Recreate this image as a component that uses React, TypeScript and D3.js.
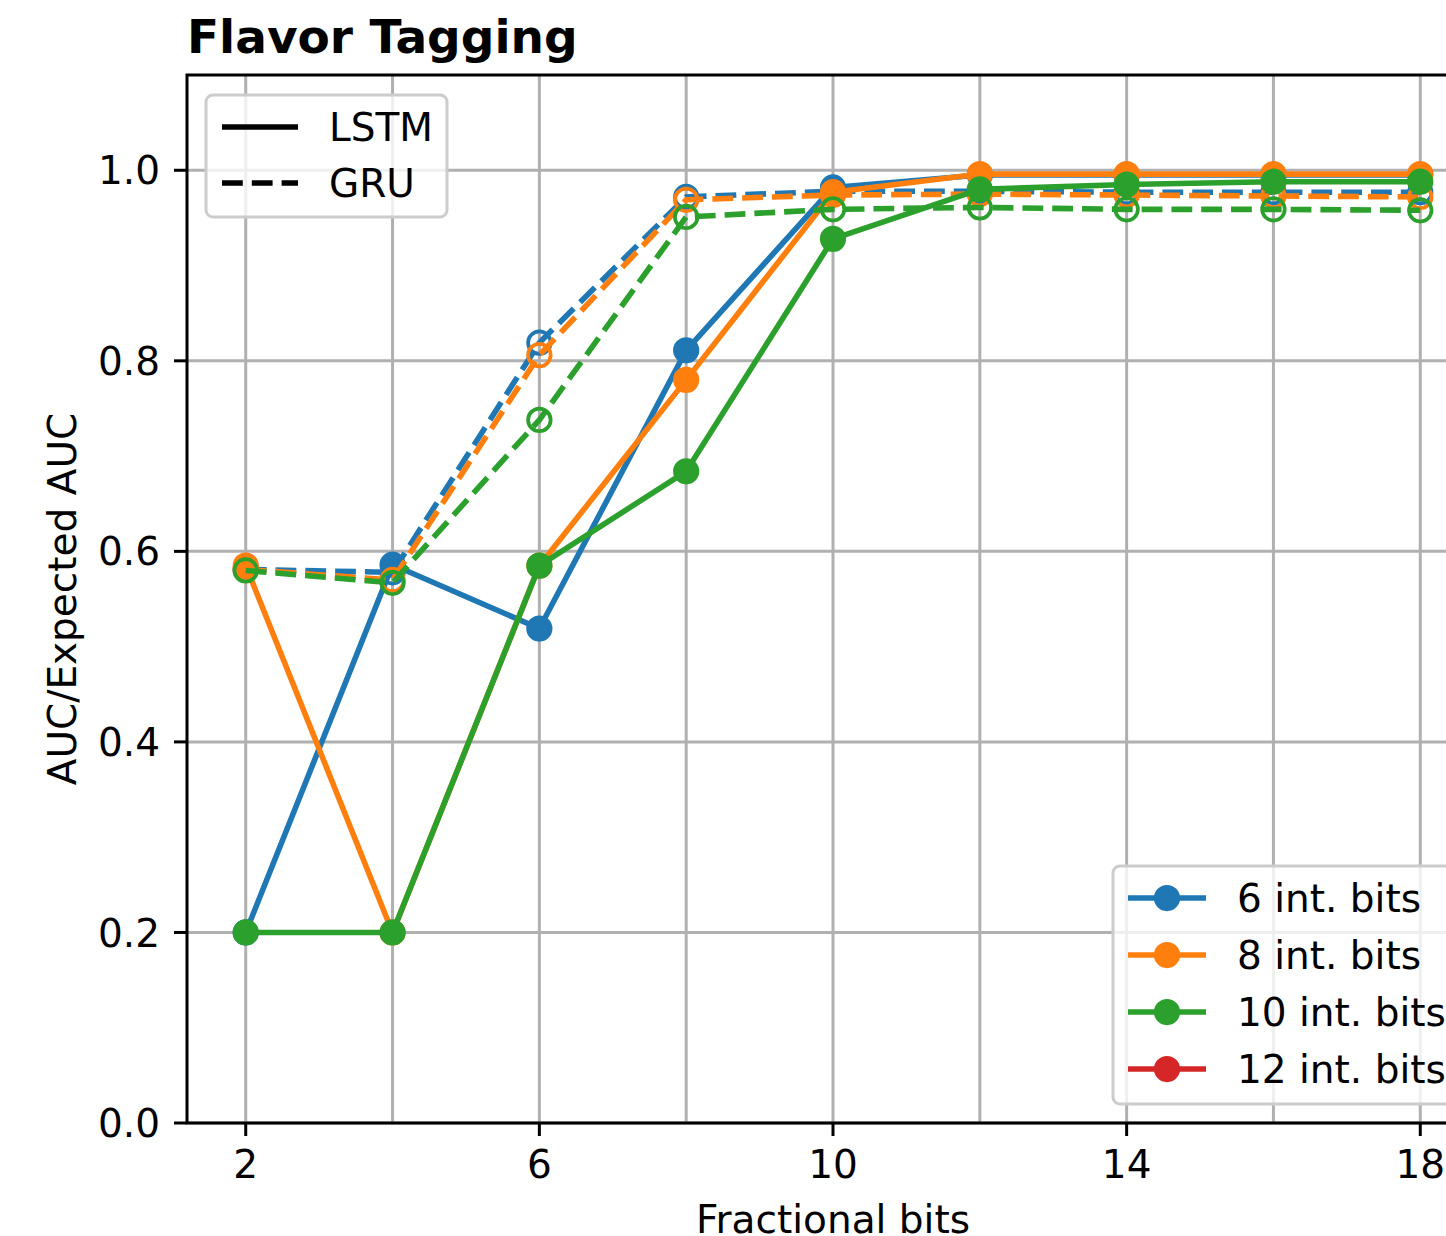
import React, { useRef, useEffect } from "react";
import * as d3 from "d3";

// x values (fractional bits) and ticks
const fracBits = [2, 4, 6, 8, 10, 12, 14, 16, 18];
const xGrid = [2, 4, 6, 8, 10, 12, 14, 16, 18];
const xTicks = [2, 6, 10, 14, 18];
const yTicks = [0, 0.2, 0.4, 0.6, 0.8, 1.0];

const intBitLabels = ["6 int. bits", "8 int. bits", "10 int. bits", "12 int. bits"];
const colors = ["#1f77b4", "#ff7f0e", "#2ca02c", "#d62728"];

// LSTM (solid, filled markers)
const lstm6 = [0.2, 0.586, 0.519, 0.811, 0.982, 0.995, 0.995, 0.995, 0.995];
const lstm8 = [0.585, 0.2, 0.585, 0.78, 0.977, 0.996, 0.996, 0.996, 0.996];
const lstm10 = [0.2, 0.2, 0.585, 0.684, 0.928, 0.98, 0.985, 0.988, 0.988];
const lstm12: number[] = [];

// GRU (dashed, open markers)
const gru6 = [0.581, 0.578, 0.819, 0.972, 0.978, 0.978, 0.977, 0.977, 0.977];
const gru8 = [0.581, 0.57, 0.806, 0.969, 0.974, 0.975, 0.974, 0.973, 0.972];
const gru10 = [0.58, 0.567, 0.738, 0.951, 0.959, 0.961, 0.959, 0.959, 0.958];
const gru12: number[] = [];

const lstmSeries = [lstm6, lstm8, lstm10, lstm12];
const gruSeries = [gru6, gru8, gru10, gru12];

const W = 1446;
const H = 1236;
const FONT = "DejaVu Sans";
const FS = "39px";

const App = () => {
  const svgRef = useRef<SVGSVGElement>(null);

  useEffect(() => {
    const svg = d3.select(svgRef.current);
    svg.selectAll("*").remove();

    const left = 187;
    const top = 75;
    const right = 1479;
    const bottom = 1123;

    const x = d3.scaleLinear().domain([1.2, 18.8]).range([left, right]);
    const y = d3.scaleLinear().domain([0, 1.1]).range([bottom, top]);

    svg.append("rect").attr("width", W).attr("height", H).attr("fill", "white");

    svg
      .append("defs")
      .append("clipPath")
      .attr("id", "plot-clip")
      .append("rect")
      .attr("x", left)
      .attr("y", top)
      .attr("width", right - left)
      .attr("height", bottom - top);

    // grid
    const grid = svg.append("g");
    grid
      .selectAll(".vgrid")
      .data(xGrid)
      .enter()
      .append("line")
      .attr("x1", (d) => x(d))
      .attr("x2", (d) => x(d))
      .attr("y1", top)
      .attr("y2", bottom)
      .attr("stroke", "#b0b0b0")
      .attr("stroke-width", 3);
    grid
      .selectAll(".hgrid")
      .data(yTicks)
      .enter()
      .append("line")
      .attr("x1", left)
      .attr("x2", right)
      .attr("y1", (d) => y(d))
      .attr("y2", (d) => y(d))
      .attr("stroke", "#b0b0b0")
      .attr("stroke-width", 3);

    // data lines, LSTM then GRU for each int-bits setting
    const plot = svg.append("g").attr("clip-path", "url(#plot-clip)");
    const line = d3
      .line<number>()
      .x((d, i) => x(fracBits[i]))
      .y((d) => y(d));

    colors.forEach((color, k) => {
      const ls = lstmSeries[k];
      const gs = gruSeries[k];
      if (ls.length) {
        plot
          .append("path")
          .datum(ls)
          .attr("d", line)
          .attr("fill", "none")
          .attr("stroke", color)
          .attr("stroke-width", 5.6)
          .attr("stroke-linejoin", "round");
        plot
          .selectAll(null)
          .data(ls)
          .enter()
          .append("circle")
          .attr("cx", (d, i) => x(fracBits[i]))
          .attr("cy", (d) => y(d))
          .attr("r", 11.25)
          .attr("fill", color)
          .attr("stroke", color)
          .attr("stroke-width", 3.75);
      }
      if (gs.length) {
        plot
          .append("path")
          .datum(gs)
          .attr("d", line)
          .attr("fill", "none")
          .attr("stroke", color)
          .attr("stroke-width", 5.6)
          .attr("stroke-dasharray", "20.8,9");
        plot
          .selectAll(null)
          .data(gs)
          .enter()
          .append("circle")
          .attr("cx", (d, i) => x(fracBits[i]))
          .attr("cy", (d) => y(d))
          .attr("r", 11.25)
          .attr("fill", "none")
          .attr("stroke", color)
          .attr("stroke-width", 3.75);
      }
    });

    // spines
    svg
      .append("rect")
      .attr("x", left)
      .attr("y", top)
      .attr("width", right - left)
      .attr("height", bottom - top)
      .attr("fill", "none")
      .attr("stroke", "black")
      .attr("stroke-width", 3);

    // x ticks
    const xt = svg
      .selectAll(".xtick")
      .data(xTicks)
      .enter()
      .append("g")
      .attr("transform", (d) => `translate(${x(d)},${bottom})`);
    xt.append("line").attr("y1", 0).attr("y2", 13).attr("stroke", "black").attr("stroke-width", 3);
    xt.append("text")
      .attr("y", 55)
      .attr("text-anchor", "middle")
      .style("font-family", FONT)
      .style("font-size", FS)
      .text((d) => d);

    // y ticks
    const yt = svg
      .selectAll(".ytick")
      .data(yTicks)
      .enter()
      .append("g")
      .attr("transform", (d) => `translate(${left},${y(d)})`);
    yt.append("line").attr("x1", 0).attr("x2", -13).attr("stroke", "black").attr("stroke-width", 3);
    yt.append("text")
      .attr("x", -27)
      .attr("dy", "0.36em")
      .attr("text-anchor", "end")
      .style("font-family", FONT)
      .style("font-size", FS)
      .text((d) => d.toFixed(1));

    // axis labels
    svg
      .append("text")
      .attr("x", (left + right) / 2)
      .attr("y", 1233)
      .attr("text-anchor", "middle")
      .style("font-family", FONT)
      .style("font-size", FS)
      .text("Fractional bits");
    svg
      .append("text")
      .attr("transform", `translate(76,${(top + bottom) / 2}) rotate(-90)`)
      .attr("text-anchor", "middle")
      .style("font-family", FONT)
      .style("font-size", FS)
      .text("AUC/Expected AUC");

    // title
    svg
      .append("text")
      .attr("x", left)
      .attr("y", 53)
      .style("font-family", FONT)
      .style("font-size", "47px")
      .style("font-weight", "bold")
      .text("Flavor Tagging");

    // legend: line styles
    const lg1 = svg.append("g");
    lg1
      .append("rect")
      .attr("x", 206)
      .attr("y", 95)
      .attr("width", 241)
      .attr("height", 122)
      .attr("rx", 7)
      .attr("fill", "white")
      .attr("fill-opacity", 0.8)
      .attr("stroke", "#cccccc")
      .attr("stroke-width", 3);
    const styleItems = lg1
      .selectAll(".style-item")
      .data(["LSTM", "GRU"])
      .enter()
      .append("g")
      .attr("transform", (d, i) => `translate(222,${127 + i * 56})`);
    styleItems
      .append("line")
      .attr("x1", 0)
      .attr("x2", 76)
      .attr("stroke", "black")
      .attr("stroke-width", 5.6)
      .attr("stroke-dasharray", (d, i) => (i === 1 ? "20.8,9" : null));
    styleItems
      .append("text")
      .attr("x", 107)
      .attr("dy", "0.36em")
      .style("font-family", FONT)
      .style("font-size", FS)
      .text((d) => d);

    // legend: int bits
    const lg2 = svg.append("g");
    lg2
      .append("rect")
      .attr("x", 1113)
      .attr("y", 866)
      .attr("width", 350)
      .attr("height", 238)
      .attr("rx", 7)
      .attr("fill", "white")
      .attr("fill-opacity", 0.8)
      .attr("stroke", "#cccccc")
      .attr("stroke-width", 3);
    const bitItems = lg2
      .selectAll(".bit-item")
      .data(intBitLabels)
      .enter()
      .append("g")
      .attr("transform", (d, i) => `translate(1128,${898 + i * 57})`);
    bitItems
      .append("line")
      .attr("x1", 0)
      .attr("x2", 78)
      .attr("stroke", (d, i) => colors[i])
      .attr("stroke-width", 5.6);
    bitItems
      .append("circle")
      .attr("cx", 39)
      .attr("r", 11.25)
      .attr("fill", (d, i) => colors[i])
      .attr("stroke", (d, i) => colors[i])
      .attr("stroke-width", 3.75);
    bitItems
      .append("text")
      .attr("x", 109)
      .attr("dy", "0.36em")
      .style("font-family", FONT)
      .style("font-size", FS)
      .text((d) => d);
  }, []);

  return (
    <svg
      ref={svgRef}
      width={W}
      height={H}
      style={{ position: "absolute", left: 0, top: 0, display: "block" }}
    />
  );
};

export default App;
